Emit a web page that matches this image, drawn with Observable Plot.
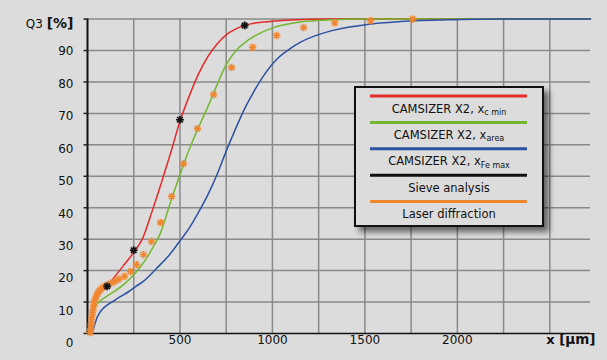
<!DOCTYPE html>
<html>
<head>
<meta charset="utf-8">
<script src="https://cdn.jsdelivr.net/npm/d3@7"></script>
<script src="https://cdn.jsdelivr.net/npm/@observablehq/plot@0.6"></script>
<style>
  html, body { margin: 0; padding: 0; background: #dcdcdc; }
  #wrap { position: relative; width: 607px; height: 360px; overflow: hidden; }
  #legend { position: absolute; left: 354px; top: 86px; width: 186px; height: 137px;
            border: 2px solid #111; background: #dcdcdc;
            box-shadow: 5px 5px 6px rgba(0,0,0,0.55); }
  #legend svg { display: block; }
</style>
</head>
<body>
<div id="wrap"><div id="legend"></div></div>
<script>
// ---- data (x in µm, Q3 in %) ----
const cMin = [[16,0],[20,3.5],[25,7],[30,9.5],[38,11.5],[50,13],[70,14.2],[106,15.3],[150,18.3],[200,22],[250,25.8],[296,30],[350,39],[400,48],[450,57.5],[500,67.5],[550,75.5],[600,82.5],[650,88],[700,92],[750,95],[800,96.8],[850,98],[900,98.7],[1000,99.3],[1100,99.7],[1300,100],[2720,100]];
const xArea = [[15,0],[20,2.5],[26,5],[33,7],[45,8.8],[60,9.9],[81,10.9],[106,11.9],[153,13.7],[200,15.8],[243,18.2],[287,21.3],[320,24],[350,27],[395,32],[450,42],[500,50.5],[550,58.5],[600,65.5],[650,72],[700,79],[750,85.5],[800,89.8],[866,93.2],[900,94.5],[1006,97.3],[1100,98.6],[1169,99.2],[1300,99.7],[1500,100],[2720,100]];
const xFeMax = [[25,0],[32,1.5],[40,3],[50,4.8],[60,6],[70,7],[85,8],[106,9],[140,10.3],[180,11.8],[220,13.2],[260,14.9],[300,16.5],[370,20.5],[450,25.5],[500,29.5],[550,33.5],[600,38.5],[650,44],[700,50.5],[750,58],[800,65],[850,71.5],[900,77],[950,81.8],[1026,87.4],[1100,90.8],[1150,92.6],[1261,95.3],[1333,96.5],[1513,98.3],[1694,99.2],[1964,99.8],[2235,100],[2720,100]];
const sieve = [[106,15],[250,26.5],[500,68],[850,98]];
const laser = [[14,0.3],[17,1.5],[20,3],[23,4.5],[26,6],[29,7.3],[33,8.6],[37,9.8],[42,10.9],[48,11.9],[55,12.8],[63,13.5],[72,14.1],[83,14.6],[95,15.1],[110,15.5],[128,16],[148,16.6],[170,17.3],[200,18.2],[233,19.7],[265,21.9],[303,25.1],[346,29.3],[395,35.3],[455,43.6],[519,54],[595,65.2],[682,76],[779,84.6],[893,91],[1023,94.8],[1169,97.3],[1337,98.8],[1531,99.5],[1759,100]];

const xTickLabels = [500, 1000, 1500, 2000];
const xGrid = [250, 500, 750, 1000, 1250, 1500, 1750, 2000, 2250, 2500];
const yTickLabels = [0, 10, 20, 30, 40, 50, 60, 70, 80, 90];
const yGrid = [10, 20, 30, 40, 50, 60, 70, 80, 90, 100];

const legendLabels = ["CAMSIZER X2, x", "CAMSIZER X2, x", "CAMSIZER X2, x", "Sieve analysis", "Laser diffraction"];
const legendSubs = ["c min", "area", "Fe max", "", ""];
const legendColors = ["#e42a2a", "#72b82e", "#2b52a3", "#111111", "#f0862e"];

// ---- symbols ----
const star8 = {
  draw(ctx, size) {
    const r = Math.sqrt(size / Math.PI), d = r * Math.SQRT1_2;
    ctx.moveTo(-r, 0); ctx.lineTo(r, 0);
    ctx.moveTo(0, -r); ctx.lineTo(0, r);
    ctx.moveTo(-d, -d); ctx.lineTo(d, d);
    ctx.moveTo(-d, d); ctx.lineTo(d, -d);
  }
};
const tickLeft = { draw(ctx) { ctx.moveTo(-4, 0); ctx.lineTo(0, 0); } };

const X = d => d[0], Y = d => d[1];

const plot = Plot.plot({
  width: 607, height: 360,
  marginLeft: 87, marginRight: 17, marginTop: 18.6, marginBottom: 27,
  x: { domain: [0, 2720], axis: null },
  y: { domain: [0, 100], axis: null },
  style: { background: "#dcdcdc", fontFamily: "DejaVu Sans, Verdana, sans-serif", fontSize: "12px", color: "#111" },
  marks: [
    Plot.ruleX(xGrid, { stroke: "#8a8a8a", strokeWidth: 1.5 }),
    Plot.ruleY(yGrid, { stroke: "#8a8a8a", strokeWidth: 1.5 }),
    Plot.ruleX([0], { stroke: "#111", strokeWidth: 2 }),
    Plot.ruleY([0], { stroke: "#111", strokeWidth: 1.5 }),
    Plot.dot(yTickLabels.concat([100]), { y: d => d, frameAnchor: "left", symbol: tickLeft, fill: "none", stroke: "#222", strokeWidth: 1.5 }),
    Plot.line(cMin, { x: X, y: Y, stroke: legendColors[0], strokeWidth: 1.5, curve: "monotone-x" }),
    Plot.line(xArea, { x: X, y: Y, stroke: legendColors[1], strokeWidth: 1.5, curve: "monotone-x" }),
    Plot.line(xFeMax, { x: X, y: Y, stroke: legendColors[2], strokeWidth: 1.5, curve: "monotone-x" }),
    Plot.dot(laser, { x: X, y: Y, r: 4, fill: "#f4a060", fillOpacity: 0.3, stroke: "none" }),
    Plot.dot(laser, { x: X, y: Y, r: 3.6, symbol: star8, fill: "none", stroke: legendColors[4], strokeWidth: 1.3 }),
    Plot.dot(sieve, { x: X, y: Y, r: 4, fill: "#555", fillOpacity: 0.25, stroke: "none" }),
    Plot.dot(sieve, { x: X, y: Y, r: 3.8, symbol: star8, fill: "none", stroke: "#111", strokeWidth: 1.6 }),
    ...yTickLabels.map(v => Plot.text([v], { y: d => d, frameAnchor: "left", dx: -14, dy: 10 - v / 10, textAnchor: "end", text: d => String(d), fill: "#111" })),
    Plot.text(xTickLabels, { x: d => d, frameAnchor: "bottom", dy: 10, text: d => String(d), fill: "#111" }),
    Plot.text(["Q3 [%]"], { frameAnchor: "top-left", dx: -14, textAnchor: "end", fill: "#111" }),
    Plot.text(["x [µm]"], { frameAnchor: "bottom-right", dx: 5, dy: 10, textAnchor: "end", fill: "#111" })
  ]
});

// rich-text axis titles
plot.querySelectorAll("text").forEach(t => {
  const s = t.textContent;
  if (s === "Q3 [%]") {
    t.textContent = "";
    d3.select(t).append("tspan").text("Q3 ");
    d3.select(t).append("tspan").attr("font-weight", "bold").attr("font-size", 14).text("[%]");
  } else if (s === "x [µm]") {
    t.textContent = "";
    d3.select(t).append("tspan").attr("font-weight", "bold").attr("font-size", 13).text("x ");
    d3.select(t).append("tspan").attr("font-weight", "bold").attr("font-size", 13.5).text("[µm]");
  }
});

document.getElementById("wrap").insertBefore(plot, document.getElementById("legend"));

// ---- legend ----
const lg = d3.select("#legend").append("svg").attr("width", 186).attr("height", 137)
  .style("font-family", "DejaVu Sans, Verdana, sans-serif");
legendLabels.forEach((lab, i) => {
  const ly = 8 + i * 26.4;
  lg.append("line").attr("x1", 14).attr("x2", 171).attr("y1", ly).attr("y2", ly)
    .attr("stroke", legendColors[i]).attr("stroke-width", 3);
  const t = lg.append("text").attr("x", 93).attr("y", ly + 16.5).attr("text-anchor", "middle")
    .attr("font-size", 11.5).attr("fill", "#111");
  t.append("tspan").text(lab);
  if (legendSubs[i]) t.append("tspan").attr("font-size", 8).attr("dy", 2.5).text(legendSubs[i]);
});
</script>
</body>
</html>
